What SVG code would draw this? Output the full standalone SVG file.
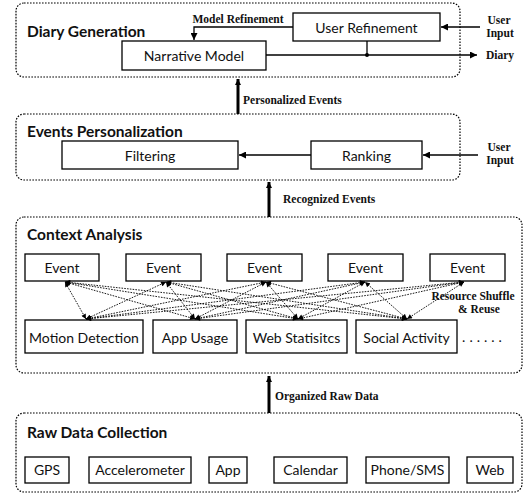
<svg xmlns="http://www.w3.org/2000/svg" width="524" height="494" viewBox="0 0 524 494">
<defs>
<style>
.grp{fill:none;stroke:#000;stroke-width:1.2;stroke-dasharray:1.6 1.4}
.box{fill:#fff;stroke:#000;stroke-width:1.3}
.t{font-family:Lato,"Liberation Sans",sans-serif;font-size:14px;text-anchor:middle;dominant-baseline:central;fill:#111}
.title{font-family:Lato,"Liberation Sans",sans-serif;font-size:15.5px;font-weight:bold;fill:#111}
.lbl{font-family:"Liberation Serif","Times New Roman",serif;font-size:11.5px;font-weight:bold;fill:#111}
.ln{fill:none;stroke:#000;stroke-width:1.3}
.thick{fill:none;stroke:#000;stroke-width:3}
.dl{fill:none;stroke:#000;stroke-width:0.9;stroke-dasharray:1.6 1.2}
</style>
<marker id="ah" viewBox="0 0 10 10" refX="10" refY="5" markerWidth="9" markerHeight="7" markerUnits="userSpaceOnUse" orient="auto"><path d="M0,0 L10,5 L0,10 z" fill="#000"/></marker>
<marker id="ahb" viewBox="0 0 10 10" refX="10" refY="5" markerWidth="11" markerHeight="6" markerUnits="userSpaceOnUse" orient="auto"><path d="M0,0 L10,5 L0,10 z" fill="#000"/></marker>
<marker id="ahs" viewBox="0 0 10 10" refX="10" refY="5" markerWidth="6" markerHeight="5" markerUnits="userSpaceOnUse" orient="auto-start-reverse"><path d="M0,0 L10,5 L0,10 z" fill="#000"/></marker>
</defs>

<g id="diary-generation">
<rect class="grp" x="16" y="3" width="444" height="74" rx="8"/>
<text class="title" x="27" y="37">Diary Generation</text>
</g>
<g id="user-refinement">
<rect class="box" x="293" y="13" width="147" height="28"/>
<text class="t" x="366.5" y="27">User Refinement</text>
</g>
<g id="narrative-model">
<rect class="box" x="122" y="41" width="144" height="29"/>
<text class="t" x="194" y="55.5">Narrative Model</text>
</g>

<g id="events-personalization">
<rect class="grp" x="16" y="114" width="444" height="66" rx="8"/>
<text class="title" x="27" y="137">Events Personalization</text>
</g>
<g id="filtering">
<rect class="box" x="62" y="141" width="176" height="28"/>
<text class="t" x="150" y="155">Filtering</text>
</g>
<g id="ranking">
<rect class="box" x="311" y="141" width="111" height="28"/>
<text class="t" x="366.5" y="155">Ranking</text>
</g>

<g id="context-analysis">
<rect class="grp" x="16" y="217" width="506" height="156" rx="8"/>
<text class="title" x="27" y="240">Context Analysis</text>
</g>
<g id="event-1"><rect class="box" x="25" y="254" width="74" height="27"/><text class="t" x="62" y="267.5">Event</text></g>
<g id="event-2"><rect class="box" x="126" y="254" width="75" height="27"/><text class="t" x="163.5" y="267.5">Event</text></g>
<g id="event-3"><rect class="box" x="227" y="254" width="75" height="27"/><text class="t" x="264.5" y="267.5">Event</text></g>
<g id="event-4"><rect class="box" x="328" y="254" width="75" height="27"/><text class="t" x="365.5" y="267.5">Event</text></g>
<g id="event-5"><rect class="box" x="430" y="254" width="75" height="27"/><text class="t" x="467.5" y="267.5">Event</text></g>
<g id="motion-detection"><rect class="box" x="25" y="320" width="118" height="33"/><text class="t" x="84" y="337">Motion Detection</text></g>
<g id="app-usage"><rect class="box" x="153" y="320" width="84" height="33"/><text class="t" x="195" y="337">App Usage</text></g>
<g id="web-statistics"><rect class="box" x="246" y="320" width="101" height="33"/><text class="t" x="296.5" y="337">Web Statisitcs</text></g>
<g id="social-activity"><rect class="box" x="356" y="320" width="101" height="33"/><text class="t" x="406.5" y="337">Social Activity</text></g>
<g id="more"><text class="t" x="484" y="336" letter-spacing="4">......</text></g>

<g id="raw-data-collection">
<rect class="grp" x="16" y="413" width="506" height="79" rx="8"/>
<text class="title" x="27" y="438">Raw Data Collection</text>
</g>
<g id="gps"><rect class="box" x="25" y="457" width="44" height="26"/><text class="t" x="47" y="469.5">GPS</text></g>
<g id="accelerometer"><rect class="box" x="89" y="457" width="102" height="26"/><text class="t" x="140" y="469.5">Accelerometer</text></g>
<g id="app"><rect class="box" x="209" y="457" width="38" height="26"/><text class="t" x="228" y="469.5">App</text></g>
<g id="calendar"><rect class="box" x="274" y="457" width="73" height="26"/><text class="t" x="310.5" y="469.5">Calendar</text></g>
<g id="phone-sms"><rect class="box" x="366" y="457" width="83" height="26"/><text class="t" x="407.5" y="469.5">Phone/SMS</text></g>
<g id="web"><rect class="box" x="467" y="457" width="46" height="26"/><text class="t" x="490" y="469.5">Web</text></g>

<g id="connectors">
<path class="ln" d="M293,27 H194 V40" marker-end="url(#ah)"/>
<text class="lbl" x="238" y="23" text-anchor="middle">Model Refinement</text>
<path class="ln" d="M480,27 H441" marker-end="url(#ah)"/>
<text class="lbl" x="499" y="24" text-anchor="middle">User</text>
<text class="lbl" x="500" y="37" text-anchor="middle">Input</text>
<path class="ln" d="M266,55 H477" marker-end="url(#ah)"/>
<path class="ln" d="M367,41 V55"/>
<circle cx="367" cy="55" r="2" fill="#000"/>
<text class="lbl" x="500" y="59" text-anchor="middle">Diary</text>

<path class="thick" d="M238,114 V79" marker-end="url(#ahb)"/>
<text class="lbl" x="243" y="104">Personalized Events</text>

<path class="ln" d="M311,155 H239" marker-end="url(#ah)"/>
<path class="ln" d="M478,155 H423" marker-end="url(#ah)"/>
<text class="lbl" x="499" y="151" text-anchor="middle">User</text>
<text class="lbl" x="500" y="164" text-anchor="middle">Input</text>

<path class="thick" d="M269,217 V182" marker-end="url(#ahb)"/>
<text class="lbl" x="283" y="203">Recognized Events</text>

<path class="thick" d="M269,413 V376" marker-end="url(#ahb)"/>
<text class="lbl" x="275" y="400">Organized Raw Data</text>

<g id="shuffle">
<path class="dl" d="M86,319 L65,282" marker-start="url(#ahs)" marker-end="url(#ahs)"/>
<path class="dl" d="M86,319 L166,282" marker-start="url(#ahs)" marker-end="url(#ahs)"/>
<path class="dl" d="M86,319 L266,282" marker-start="url(#ahs)" marker-end="url(#ahs)"/>
<path class="dl" d="M86,319 L365,282" marker-start="url(#ahs)" marker-end="url(#ahs)"/>
<path class="dl" d="M86,319 L464,282" marker-start="url(#ahs)" marker-end="url(#ahs)"/>
<path class="dl" d="M195,319 L65,282" marker-start="url(#ahs)" marker-end="url(#ahs)"/>
<path class="dl" d="M195,319 L166,282" marker-start="url(#ahs)" marker-end="url(#ahs)"/>
<path class="dl" d="M195,319 L266,282" marker-start="url(#ahs)" marker-end="url(#ahs)"/>
<path class="dl" d="M195,319 L365,282" marker-start="url(#ahs)" marker-end="url(#ahs)"/>
<path class="dl" d="M195,319 L464,282" marker-start="url(#ahs)" marker-end="url(#ahs)"/>
<path class="dl" d="M298,319 L65,282" marker-start="url(#ahs)" marker-end="url(#ahs)"/>
<path class="dl" d="M298,319 L166,282" marker-start="url(#ahs)" marker-end="url(#ahs)"/>
<path class="dl" d="M298,319 L266,282" marker-start="url(#ahs)" marker-end="url(#ahs)"/>
<path class="dl" d="M298,319 L365,282" marker-start="url(#ahs)" marker-end="url(#ahs)"/>
<path class="dl" d="M298,319 L464,282" marker-start="url(#ahs)" marker-end="url(#ahs)"/>
<path class="dl" d="M407,319 L65,282" marker-start="url(#ahs)" marker-end="url(#ahs)"/>
<path class="dl" d="M407,319 L166,282" marker-start="url(#ahs)" marker-end="url(#ahs)"/>
<path class="dl" d="M407,319 L266,282" marker-start="url(#ahs)" marker-end="url(#ahs)"/>
<path class="dl" d="M407,319 L365,282" marker-start="url(#ahs)" marker-end="url(#ahs)"/>
<path class="dl" d="M407,319 L464,282" marker-start="url(#ahs)" marker-end="url(#ahs)"/>
</g>
<text class="lbl" x="473" y="300" text-anchor="middle">Resource Shuffle</text>
<text class="lbl" x="479" y="313" text-anchor="middle">&amp; Reuse</text>
</g>
</svg>
